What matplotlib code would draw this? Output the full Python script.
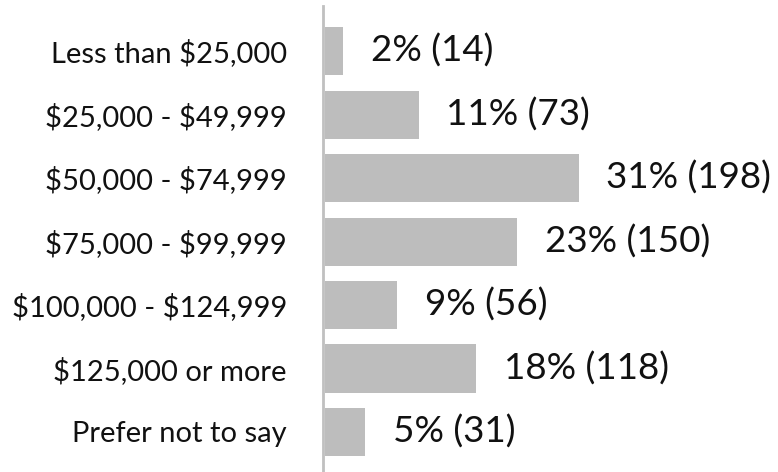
import matplotlib
matplotlib.use("Agg")
import matplotlib.pyplot as plt

categories = ["Less than $25,000", "$25,000 - $49,999", "$50,000 - $74,999",
              "$75,000 - $99,999", "$100,000 - $124,999", "$125,000 or more",
              "Prefer not to say"]
counts = [14, 73, 198, 150, 56, 118, 31]
percents = [2, 11, 31, 23, 9, 18, 5]

plt.rcParams['font.family'] = ['Lato', 'DejaVu Sans']
plt.rcParams['text.parse_math'] = False

fig = plt.figure(figsize=(7.78, 4.72), dpi=100)
W, H = 778, 472
ax = fig.add_axes([323 / W, 0, (W - 323) / W, (472 - 6) / H])

ypos = list(range(len(categories)))
ax.barh(ypos, counts, height=0.756, color="#BDBDBD", left=0)
for y, c, p in zip(ypos, counts, percents):
    ax.annotate(f"{p}% ({c})", xy=(c, y), xytext=(20, 0), textcoords="offset points",
                va="center", ha="left", fontsize=26.5, color="#111111")

ax.set_xlim(-1.8, 354)
ax.set_ylim(6.63, -0.709)
ax.set_yticks(ypos)
ax.set_yticklabels(categories, fontsize=21, color="#111111")
ax.tick_params(axis="y", length=0, pad=26)
ax.set_xticks([])
for s in ["top", "right", "bottom"]:
    ax.spines[s].set_visible(False)
ax.spines["left"].set_color("#C0C0C0")
ax.spines["left"].set_linewidth(2)

fig.savefig("out.png", dpi=100)
